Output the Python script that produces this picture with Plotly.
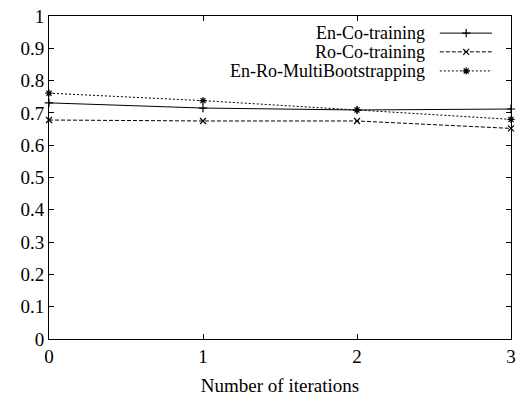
import plotly.graph_objects as go

iterations = [0, 1, 2, 3]
en_co_training = [0.731, 0.715, 0.709, 0.712]
ro_co_training = [0.678, 0.675, 0.675, 0.652]
en_ro_multiboot = [0.761, 0.738, 0.709, 0.680]
series_names = ["En-Co-training", "Ro-Co-training", "En-Ro-MultiBootstrapping"]
y_ticks = [0, 0.1, 0.2, 0.3, 0.4, 0.5, 0.6, 0.7, 0.8, 0.9, 1]
y_tick_text = ["0", "0.1", "0.2", "0.3", "0.4", "0.5", "0.6", "0.7", "0.8", "0.9", "1"]

FONT = "Liberation Serif"
FS = 19
styles = [
    dict(dash="solid", symbol="cross-thin"),
    dict(dash="4px,2px", symbol="x-thin"),
    dict(dash="2px,2px", symbol="asterisk"),
]
data = [en_co_training, ro_co_training, en_ro_multiboot]

fig = go.Figure()
for name, ys, st in zip(series_names, data, styles):
    fig.add_trace(go.Scatter(
        x=iterations, y=ys, mode="lines+markers", name=name,
        line=dict(color="black", width=1, dash=st["dash"]),
        marker=dict(symbol=st["symbol"], size=6, color="black",
                    line=dict(color="black", width=1.2)),
        showlegend=False, cliponaxis=False,
    ))

# manual gnuplot-style legend (text right, sample on the right)
rows_y = [0.947, 0.889, 0.830]
for name, ry, st in zip(series_names, rows_y, styles):
    fig.add_trace(go.Scatter(
        x=[0.846, 0.959], y=[ry, ry], xaxis="x2", yaxis="y2", mode="lines",
        line=dict(color="black", width=1, dash=st["dash"]), showlegend=False,
        hoverinfo="skip"))
    fig.add_trace(go.Scatter(
        x=[0.903], y=[ry], xaxis="x2", yaxis="y2", mode="markers",
        marker=dict(symbol=st["symbol"], size=6, color="black",
                    line=dict(color="black", width=1.2)),
        showlegend=False, hoverinfo="skip"))
    fig.add_annotation(x=0.818, y=ry, xref="x2", yref="y2", text=name,
                       showarrow=False, xanchor="right", yanchor="middle",
                       font=dict(family=FONT, size=18, color="black"))

fig.update_layout(
    width=527, height=396,
    margin=dict(l=49, r=16, t=16, b=57),
    plot_bgcolor="white", paper_bgcolor="white",
    font=dict(family=FONT, size=FS, color="black"),
    xaxis=dict(range=[0, 3], tickvals=[0, 1, 2, 3], ticks="inside", ticklen=5,
               tickcolor="black", showline=True, linecolor="black", linewidth=1,
               mirror="ticks", showgrid=False, zeroline=False, automargin=False,
               tickfont=dict(family=FONT, size=FS),
               title=dict(text="Number of iterations", standoff=12,
                          font=dict(family=FONT, size=FS))),
    yaxis=dict(range=[0, 1], tickvals=y_ticks, ticktext=y_tick_text,
               ticks="inside", ticklen=5, tickcolor="black", showline=True,
               linecolor="black", linewidth=1, mirror="ticks", showgrid=False,
               zeroline=False, automargin=False,
               tickfont=dict(family=FONT, size=FS)),
    xaxis2=dict(range=[0, 1], overlaying="x", visible=False, domain=[0, 1]),
    yaxis2=dict(range=[0, 1], overlaying="y", visible=False, domain=[0, 1]),
)

fig.write_html(
    "out.html",
    config={"displayModeBar": False},
    post_script="document.body.style.margin='0';document.body.style.padding='0';",
)
